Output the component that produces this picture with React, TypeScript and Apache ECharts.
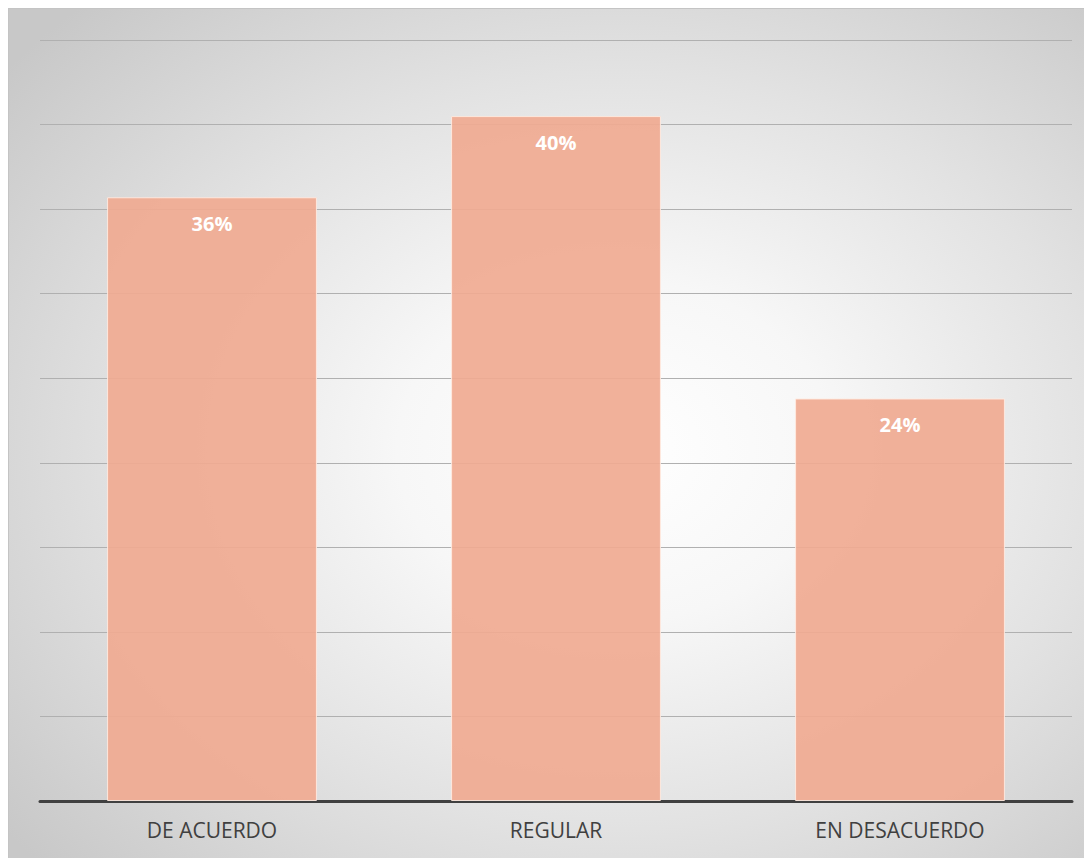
import React, { useEffect, useRef } from "react";
import * as echarts from "echarts";

const categories = ["DE ACUERDO", "REGULAR", "EN DESACUERDO"];
const values = [35.7, 40.5, 23.8];
const valueLabels = ["36%", "40%", "24%"];
const yMin = 0;
const yMax = 45;
const yInterval = 5;

export default function App() {
  const ref = useRef<HTMLDivElement>(null);
  useEffect(() => {
    if (!ref.current) return;
    const chart = echarts.init(ref.current, undefined, { renderer: "svg" });
    chart.setOption({
      animation: false,
      grid: { left: 31, right: 20, top: 31, bottom: 57 },
      xAxis: {
        type: "category",
        data: categories,
        axisLine: { show: true, lineStyle: { color: "#404040", width: 3 } },
        axisTick: { show: false },
        axisLabel: {
          color: "#404040",
          fontSize: 21,
          fontFamily: "Open Sans",
          margin: 18,
        },
      },
      yAxis: {
        type: "value",
        min: yMin,
        max: yMax,
        interval: yInterval,
        axisLabel: { show: false },
        axisLine: { show: false },
        axisTick: { show: false },
        splitLine: { show: true, lineStyle: { color: "#b0b0b0", width: 1 } },
      },
      series: [
        {
          type: "bar",
          data: values.map((v, i) => ({ value: v, label: { formatter: valueLabels[i] } })),
          barWidth: "61%",
          itemStyle: {
            color: "rgba(240,170,145,0.92)",
            borderColor: "rgba(255,235,225,0.9)",
            borderWidth: 1,
          },
          label: {
            show: true,
            position: "insideTop",
            distance: 16,
            color: "#ffffff",
            fontWeight: "bold",
            fontSize: 20,
            fontFamily: "Open Sans",
          },
        },
      ],
    });
    return () => chart.dispose();
  }, []);
  return (
    <div
      ref={ref}
      style={{
        width: 1084,
        height: 850,
        boxSizing: "border-box",
        borderTop: "1px solid #c4c4c4",
        borderLeft: "1px solid #c4c4c4",
        background:
          "radial-gradient(ellipse 72% 72% at 56% 52%, #ffffff 0%, #f7f7f7 28%, #e2e2e2 62%, #c8c8c8 100%)",
      }}
    />
  );
}
